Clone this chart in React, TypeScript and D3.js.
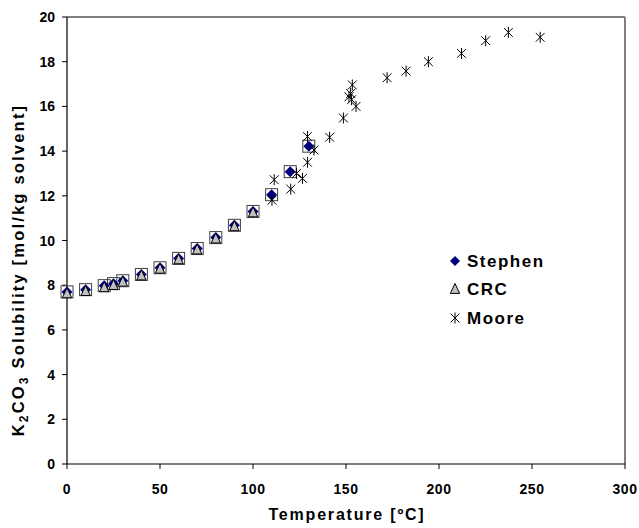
import React from "react";
import * as d3 from "d3";

const stephenT = [0, 10, 20, 25, 30, 40, 50, 60, 70, 80, 90, 100, 110, 120, 130];
const stephenV = [7.7, 7.8, 7.98, 8.07, 8.2, 8.48, 8.78, 9.2, 9.64, 10.13, 10.68, 11.3, 12.05, 13.08, 14.22];
const crcT = [0, 10, 20, 25, 30, 40, 50, 60, 70, 80, 90, 100];
const crcV = [7.68, 7.78, 7.95, 8.05, 8.2, 8.48, 8.78, 9.2, 9.64, 10.13, 10.68, 11.3];
const mooreT = [110.2, 111.4, 120.3, 123.4, 126.6, 129.3, 129.3, 132.8, 141.2, 148.6, 151.6, 152.5, 153.0, 153.4, 155.4, 172.1, 182.3, 194.3, 212.1, 225.1, 237.3, 254.4];
const mooreV = [11.8, 12.72, 12.3, 13.0, 12.78, 13.5, 14.65, 14.05, 14.62, 15.48, 16.43, 16.58, 16.3, 16.96, 16.0, 17.28, 17.58, 18.0, 18.37, 18.94, 19.31, 19.09];
const xTicks = [0, 50, 100, 150, 200, 250, 300];
const yTicks = [0, 2, 4, 6, 8, 10, 12, 14, 16, 18, 20];
const legendNames = ["Stephen", "CRC", "Moore"];

const W = 639, H = 528;
const L = 67, R = 625, T = 17, B = 464;
const FONT = "'Liberation Sans', Arial, sans-serif";

function Star({ x, y, r = 5.5 }: { x: number; y: number; r?: number }) {
  const d = r * 0.8;
  return (
    <g stroke="#000" strokeWidth={1}>
      <line x1={x} y1={y - r} x2={x} y2={y + r} />
      <line x1={x - d} y1={y - d} x2={x + d} y2={y + d} />
      <line x1={x - d} y1={y + d} x2={x + d} y2={y - d} />
    </g>
  );
}
function Diamond({ x, y, r = 5.5 }: { x: number; y: number; r?: number }) {
  return <path d={`M${x},${y - r}L${x + r},${y}L${x},${y + r}L${x - r},${y}Z`} fill="#000080" />;
}
function Tri({ x, y, r = 5.5 }: { x: number; y: number; r?: number }) {
  return (
    <path d={`M${x},${y - r}L${x + r * 0.85},${y + r * 0.8}L${x - r * 0.85},${y + r * 0.8}Z`} fill="#c0c0c0" stroke="#000" strokeWidth={1} />
  );
}

export default function App() {
  const x = d3.scaleLinear().domain([0, 300]).range([L, R]);
  const y = d3.scaleLinear().domain([0, 20]).range([B, T]);
  const legX = 455, legY = [261, 289, 318];
  return (
    <svg width={W} height={H} style={{ position: "absolute", left: 0, top: 0, background: "#fff" }} fontFamily={FONT}>
      <rect x={0} y={0} width={W} height={H} fill="#fff" />
      <line x1={L} y1={T} x2={R} y2={T} stroke="#808080" strokeWidth={2} />
      <line x1={R} y1={T} x2={R} y2={B} stroke="#808080" strokeWidth={2} />
      <line x1={L} y1={T} x2={L} y2={B} stroke="#000" strokeWidth={1.2} />
      <line x1={L} y1={B} x2={R} y2={B} stroke="#000" strokeWidth={1.2} />
      {yTicks.map((t) => (
        <g key={"y" + t}>
          <line x1={L - 5} x2={L} y1={y(t)} y2={y(t)} stroke="#000" />
          <text x={L - 12} y={y(t) + 5} textAnchor="end" fontSize={14} fontWeight="bold">{t}</text>
        </g>
      ))}
      {xTicks.map((t) => (
        <g key={"x" + t}>
          <line x1={x(t)} x2={x(t)} y1={B} y2={B + 5} stroke="#000" />
          <text x={x(t)} y={B + 30} textAnchor="middle" fontSize={14} fontWeight="bold" letterSpacing={0.5}>{t}</text>
        </g>
      ))}
      <text x={(L + R) / 2 + 1} y={520} textAnchor="middle" fontSize={16} fontWeight="bold" letterSpacing={1.8}>Temperature [ºC]</text>
      <text transform={`translate(24,270) rotate(-90)`} textAnchor="middle" fontSize={16.5} fontWeight="bold" letterSpacing={2.2}>
        K<tspan fontSize={12} dy={4}>2</tspan><tspan dy={-4}>CO</tspan><tspan fontSize={12} dy={4}>3</tspan><tspan dy={-4}> Solubility  [mol/kg solvent]</tspan>
      </text>
      {stephenT.map((t, i) => (
        <rect key={"sq" + i} x={x(t) - 6} y={y(stephenV[i]) - 6} width={12} height={12} fill="none" stroke="#404040" strokeWidth={1} />
      ))}
      {stephenT.map((t, i) => (
        <Diamond key={"d" + i} x={x(t)} y={y(stephenV[i])} />
      ))}
      {crcT.map((t, i) => (
        <Tri key={"t" + i} x={x(t)} y={y(crcV[i]) + 1} />
      ))}
      {mooreT.map((t, i) => (
        <Star key={"m" + i} x={x(t)} y={y(mooreV[i])} />
      ))}
      <Diamond x={legX} y={legY[0]} r={5} />
      <Tri x={legX} y={legY[1]} r={5.5} />
      <Star x={legX} y={legY[2]} r={5.5} />
      {legendNames.map((n, i) => (
        <text key={n} x={legX + 12} y={legY[i] + 6} fontSize={17} fontWeight="bold" letterSpacing={1.5}>{n}</text>
      ))}
    </svg>
  );
}
